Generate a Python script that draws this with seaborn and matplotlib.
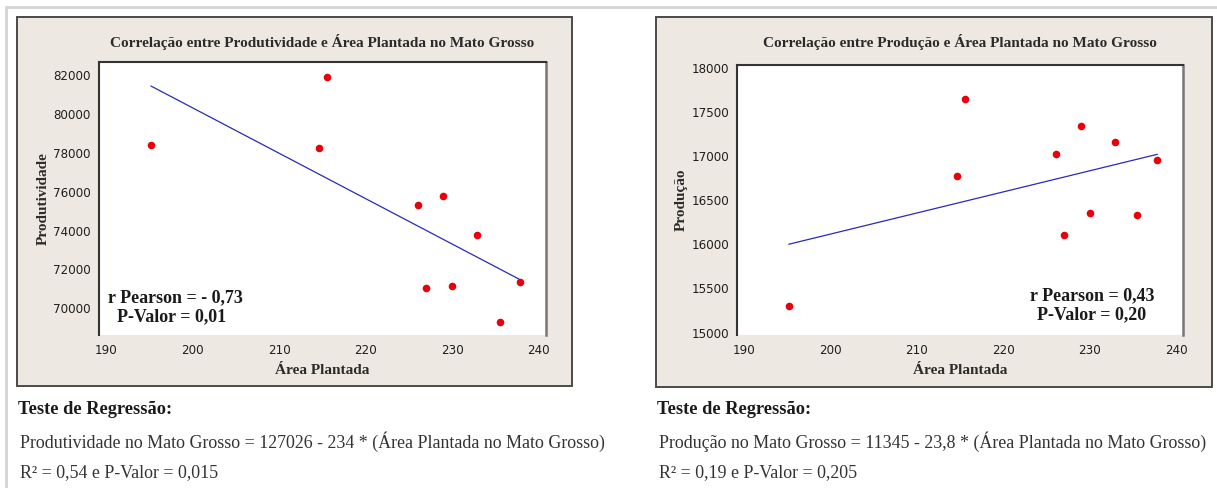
import matplotlib
matplotlib.use("Agg")
import matplotlib.pyplot as plt
import seaborn as sns
import pandas as pd
from matplotlib.patches import Rectangle
from matplotlib.lines import Line2D

# ---------------- data ----------------
area = [195.2, 215.6, 214.6, 226.1, 229.0, 232.9, 227.0, 230.0, 235.5, 237.8]
produtividade = [78380, 81910, 78230, 75310, 75790, 73750, 71050, 71150, 69310, 71340]
producao = [15300, 17650, 16770, 17020, 17340, 17155, 16110, 16350, 16330, 16955]

x_ticks = [190, 200, 210, 220, 230, 240]
y_ticks_left = [70000, 72000, 74000, 76000, 78000, 80000, 82000]
y_ticks_right = [15000, 15500, 16000, 16500, 17000, 17500, 18000]

title_left = "Correlação entre Produtividade e Área Plantada no Mato Grosso"
title_right = "Correlação entre Produção e Área Plantada no Mato Grosso"
xlabel = "Área Plantada"
ylabel_left = "Produtividade"
ylabel_right = "Produção"
stats_left = ["r Pearson = - 0,73", "P-Valor = 0,01"]
stats_right = ["r Pearson = 0,43", "P-Valor = 0,20"]
reg_head = "Teste de Regressão:"
reg_left = ["Produtividade no Mato Grosso = 127026 - 234 * (Área Plantada no Mato Grosso)",
            "R² = 0,54 e P-Valor = 0,015"]
reg_right = ["Produção no Mato Grosso = 11345 - 23,8 * (Área Plantada no Mato Grosso)",
             "R² = 0,19 e P-Valor = 0,205"]

df = pd.DataFrame({"area": area, "produtividade": produtividade, "producao": producao})

# ---------------- style ----------------
sns.set_style("white")
plt.rcParams["font.family"] = ["DejaVu Sans"]
SERIF = ["Liberation Serif", "DejaVu Serif"]

W, H = 1217, 488
fig = plt.figure(figsize=(W / 100, H / 100), dpi=100)
fig.patch.set_facecolor("white")

def fx(px):
    return px / W

def fy(py):
    return 1 - py / H

BEIGE = "#EDE9E2"
TXT = "#2b2b2b"

# page frame lines
fig.add_artist(Line2D([fx(6), fx(6)], [fy(7), 0], color="#D4D4D4", lw=2, transform=fig.transFigure))
fig.add_artist(Line2D([fx(6), 1], [fy(7), fy(7)], color="#D4D4D4", lw=2, transform=fig.transFigure))

# panel boxes
for (x0, y0, x1, y1) in [(17, 17, 572, 386), (656, 17, 1212, 386.5)]:
    fig.add_artist(Rectangle((fx(x0), fy(y1)), fx(x1 - x0), (y1 - y0) / H,
                             transform=fig.transFigure, facecolor=BEIGE,
                             edgecolor="#4a4a4a", lw=1.4, zorder=0))

panels = [
    dict(rect=[99, 62, 546, 335], y="produtividade", xlim=(189.2, 240.85), ylim=(68627, 82669),
         yticks=y_ticks_left, title=title_left, ylabel=ylabel_left, ylab_x=43,
         stats=stats_left, stats_pos=[(175, 298), (172, 317)]),
    dict(rect=[737.3, 65, 1183.3, 335], y="producao", xlim=(189.25, 240.8), ylim=(14972, 18031),
         yticks=y_ticks_right, title=title_right, ylabel=ylabel_right, ylab_x=681,
         stats=stats_right, stats_pos=[(1092, 296), (1092, 315)]),
]

for p in panels:
    l, t, r, b = p["rect"]
    ax = fig.add_axes([fx(l), fy(b), fx(r - l), (b - t) / H])
    ax.set_facecolor("white")
    sns.regplot(data=df, x="area", y=p["y"], ax=ax, ci=None,
                scatter_kws=dict(color="#E8000B", s=30, linewidths=0, zorder=3, alpha=1),
                line_kws=dict(color="#2A2AB8", lw=0.9, zorder=2))
    ax.set_xlim(*p["xlim"])
    ax.set_ylim(*p["ylim"])
    ax.set_xticks(x_ticks)
    ax.set_xticklabels([str(v) for v in x_ticks])
    ax.set_yticks(p["yticks"])
    ax.set_yticklabels([str(v) for v in p["yticks"]])
    ax.tick_params(axis="both", direction="out", length=3.5, width=0.8, color="#333333",
                   labelsize=8.6, labelcolor="#1e1e1e", pad=2.5)
    ax.tick_params(axis="x", pad=3)
    for side in ["left", "top"]:
        ax.spines[side].set_color("#333333")
        ax.spines[side].set_linewidth(1.5)
    ax.spines["right"].set_color("#777777")
    ax.spines["right"].set_linewidth(1.8)
    ax.spines["bottom"].set_visible(False)
    ax.set_xlabel("")
    ax.set_ylabel("")
    cx = (l + r) / 2
    fig.text(fx(cx), fy(42), p["title"], ha="center", va="center", family=SERIF,
             fontweight="bold", fontsize=11, color=TXT)
    fig.text(fx(cx), fy(370), xlabel, ha="center", va="center", family=SERIF,
             fontweight="bold", fontsize=11, color=TXT)
    fig.text(fx(p["ylab_x"]), fy((t + b) / 2), p["ylabel"], ha="center", va="center",
             rotation=90, family=SERIF, fontweight="bold", fontsize=11, color=TXT)
    for s, (sx, sy) in zip(p["stats"], p["stats_pos"]):
        fig.text(fx(sx), fy(sy), s, ha="center", va="center", family=SERIF,
                 fontweight="bold", fontsize=13, color="#1a1a1a")

# regression text below panels
for x0, lines in [(18, reg_left), (657, reg_right)]:
    fig.text(fx(x0), fy(410), reg_head, ha="left", va="center", family=SERIF,
             fontweight="bold", fontsize=13.2, color="#1a1a1a")
    fig.text(fx(x0 + 2), fy(442), lines[0], ha="left", va="center", family=SERIF,
             fontsize=12.9, color="#333333")
    fig.text(fx(x0 + 2), fy(473), lines[1], ha="left", va="center", family=SERIF,
             fontsize=12.9, color="#333333")

fig.savefig("out.png", dpi=100, facecolor="white")
